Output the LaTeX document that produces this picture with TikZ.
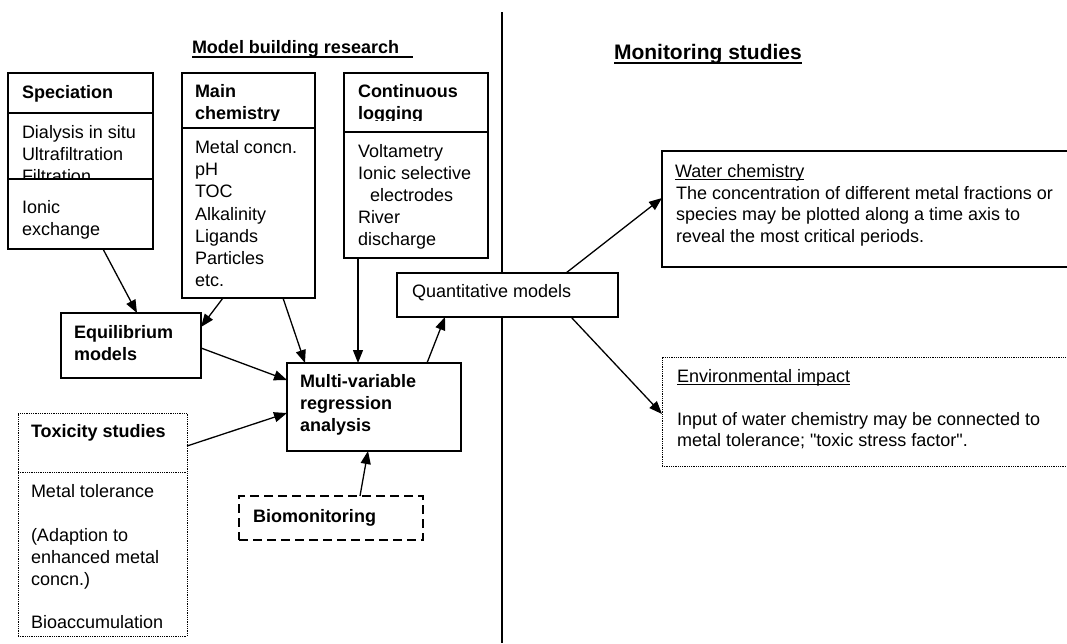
\documentclass[tikz,border=0pt]{standalone}
\usepackage{fontspec}
\setmainfont{Liberation Sans}
\usetikzlibrary{arrows.meta}
\begin{document}
\begin{tikzpicture}[x=1pt,y=-1pt,
  box/.style={draw, line width=1.4pt, inner sep=0pt, outer sep=0pt, anchor=north west, fill=white},
  dotbox/.style={box, line width=0.9pt, dash pattern=on 0.9pt off 0.9pt},
  dashbox/.style={box, dash pattern=on 9pt off 5pt},
  sepline/.style={line width=1.4pt},
  dotsep/.style={line width=0.9pt, dash pattern=on 0.9pt off 0.9pt},
  t/.style={anchor=base west, inner sep=0pt, outer sep=0pt, font=\fontsize{18pt}{22pt}\selectfont},
  tb/.style={t, font=\fontsize{18pt}{22pt}\selectfont\bfseries},
  ttl/.style={t, font=\fontsize{21pt}{24pt}\selectfont\bfseries},
  arr/.style={line width=1.3pt, -{Triangle[length=13pt,width=10pt]}},
  uline/.style={line width=0.9pt},
  tline/.style={line width=2pt},
]
\fill[white] (0,0) rectangle (1067,643);
\useasboundingbox (0,0) rectangle (1067,643);

% divider
\coordinate (dtop) at (502,12);
\coordinate (dbot) at (502,643);
\draw[line width=1.4pt] (dtop) -- (dbot);

% titles
\node[tb] (mbr) at (192,53) {Model building research};
\draw[tline] ([yshift=-4pt]mbr.base west) -- ([yshift=-4pt,xshift=14pt]mbr.base east);
\node[ttl] (mon) at (614,59) {Monitoring studies};
\draw[tline] ([yshift=-4pt]mon.base west) -- ([yshift=-4pt]mon.base east);

% boxes
\node[box, minimum width=145pt, minimum height=176pt] (spec) at (8,73) {};
\draw[sepline] ([yshift=-40pt]spec.north west) -- ([yshift=-40pt]spec.north east);
\draw[sepline] ([yshift=-106pt]spec.north west) -- ([yshift=-106pt]spec.north east);

\node[box, minimum width=133pt, minimum height=225pt] (mainc) at (182,73) {};
\draw[sepline] ([yshift=-55pt]mainc.north west) -- ([yshift=-55pt]mainc.north east);

\node[box, minimum width=144pt, minimum height=185pt] (cont) at (344,73) {};
\draw[sepline] ([yshift=-59pt]cont.north west) -- ([yshift=-59pt]cont.north east);

\node[box, minimum width=140pt, minimum height=65pt] (equil) at (61,313) {};
\node[box, minimum width=174pt, minimum height=88pt] (multi) at (287,363) {};
\node[dotbox, minimum width=169pt, minimum height=223pt] (tox) at (18,413) {};
\draw[dotsep] ([yshift=-59pt]tox.north west) -- ([yshift=-59pt]tox.north east);
\node[dashbox, minimum width=184pt, minimum height=44pt] (bio) at (239,496) {};
\node[box, minimum width=221pt, minimum height=44pt] (quant) at (397,273) {};
\node[box, minimum width=420pt, minimum height=116pt] (water) at (662,151) {};
\node[dotbox, minimum width=420pt, minimum height=109pt] (env) at (662,357) {};

% Speciation text
\node[tb] (s0) at (22,98) {Speciation};
\node[t] (s1) at (22,138) {Dialysis in situ};
\node[t] (s2) at (22,160) {Ultrafiltration};
\begin{scope}
\clip (10,165) rectangle (150,178.5);
\node[t] (s3) at (22,182) {Filtration};
\end{scope}
\node[t] (s4) at (22,213) {Ionic};
\node[t] (s5) at (22,235) {exchange};

% Main chemistry text
\node[tb] (m0) at (195,97) {Main};
\begin{scope}
\clip (184,100) rectangle (313,120.5);
\node[tb] (m1) at (195,119) {chemistry};
\end{scope}
\node[t] (m2) at (195,153) {Metal concn.};
\node[t] (m3) at (195,175) {pH};
\node[t] (m4) at (195,197) {TOC};
\node[t] (m5) at (195,220) {Alkalinity};
\node[t] (m6) at (195,242) {Ligands};
\node[t] (m7) at (195,264) {Particles};
\node[t] (m8) at (195,286) {etc.};

% Continuous logging text
\node[tb] (c0) at (358,97) {Continuous};
\begin{scope}
\clip (346,100) rectangle (486,120.5);
\node[tb] (c1) at (358,119) {logging};
\end{scope}
\node[t] (c2) at (358,157) {Voltametry};
\node[t] (c3) at (358,179) {Ionic selective};
\node[t] (c4) at (370,201) {electrodes};
\node[t] (c5) at (358,223) {River};
\node[t] (c6) at (358,245) {discharge};

% Equilibrium
\node[tb] (e0) at (74,338) {Equilibrium};
\node[tb] (e1) at (74,360) {models};

% Multi-variable
\node[tb] (mv0) at (300,387) {Multi-variable};
\node[tb] (mv1) at (300,409) {regression};
\node[tb] (mv2) at (300,431) {analysis};

% Toxicity
\node[tb] (x0) at (31,437) {Toxicity studies};
\node[t] (x1) at (31,497) {Metal tolerance};
\node[t] (x2) at (31,541) {(Adaption to};
\node[t] (x3) at (31,563) {enhanced metal};
\node[t] (x4) at (31,585) {concn.)};
\begin{scope}
\clip (20,600) rectangle (185,629);
\node[t] (x5) at (31,628) {Bioaccumulation};
\end{scope}

% Biomonitoring
\node[tb] (b0) at (253,522) {Biomonitoring};

% Quantitative
\node[t] (q0) at (412,297) {Quantitative models};

% Water chemistry
\node[t] (w0) at (675,177) {Water chemistry};
\draw[uline] ([yshift=-2.5pt]w0.base west) -- ([yshift=-2.5pt]w0.base east);
\node[t] (w1) at (676,199) {The concentration of different metal fractions or};
\node[t] (w2) at (676,220) {species may be plotted along a time axis to};
\node[t] (w3) at (676,242) {reveal the most critical periods.};

% Environmental impact
\node[t] (v0) at (677,382) {Environmental impact};
\draw[uline] ([yshift=-2.5pt]v0.base west) -- ([yshift=-2.5pt]v0.base east);
\node[t] (v1) at (677,425) {Input of water chemistry may be connected to};
\node[t] (v2) at (677,446) {metal tolerance; \textquotedbl toxic stress factor\textquotedbl.};

% connectors
\draw[arr] ([xshift=95pt]spec.south west) -- ([xshift=76pt]equil.north west);
\draw[arr] ([xshift=41pt]mainc.south west) -- ([yshift=-14pt]equil.north east);
\draw[arr] ([xshift=101pt]mainc.south west) -- ([xshift=18pt]multi.north west);
\draw[arr] ([xshift=14pt]cont.south west) -- ([xshift=71pt]multi.north west);
\draw[arr] ([yshift=-35pt]equil.north east) -- ([yshift=-17pt]multi.north west);
\draw[arr] ([yshift=-33pt]tox.north east) -- ([yshift=-50pt]multi.north west);
\draw[arr] ([xshift=121pt]bio.north west) -- ([xshift=81pt]multi.south west);
\draw[arr] ([xshift=140pt]multi.north west) -- ([xshift=48pt]quant.south west);
\draw[arr] ([xshift=169pt]quant.north west) -- ([yshift=-47pt]water.north west);
\draw[arr] ([xshift=174pt]quant.south west) -- ([yshift=-57pt]env.north west);
\end{tikzpicture}
\end{document}
